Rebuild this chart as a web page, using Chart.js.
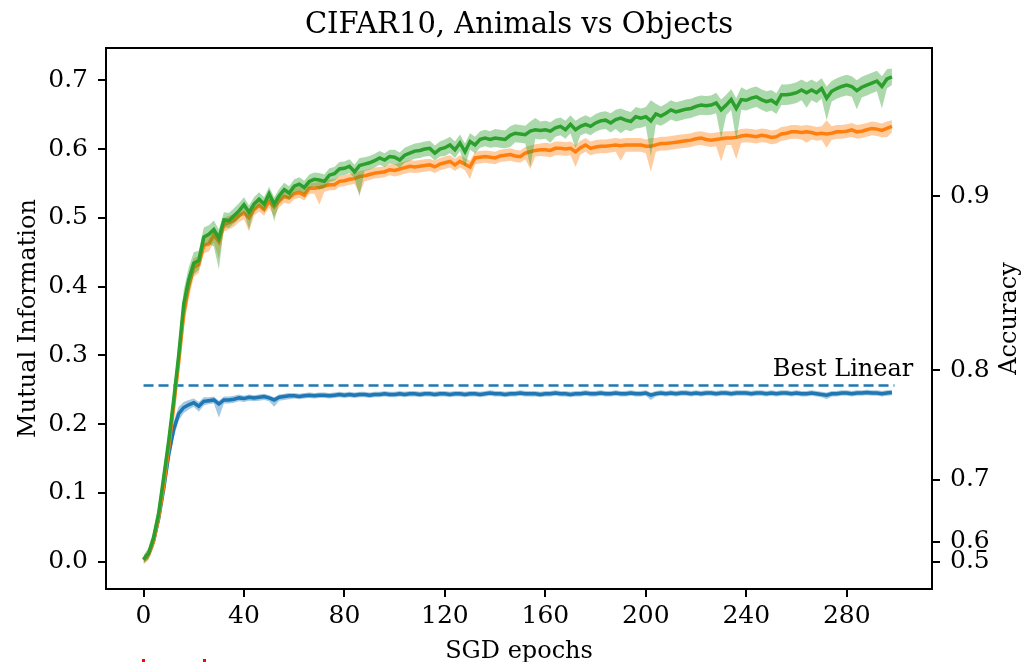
<!DOCTYPE html>
<html>
<head>
<meta charset="utf-8">
<script src="https://cdn.jsdelivr.net/npm/chart.js@4.4.1/dist/chart.umd.min.js"></script>
<style>
  html, body { margin: 0; padding: 0; background: #fff; }
  canvas { display: block; }
</style>
</head>
<body>
<canvas id="miChart" width="1025" height="662"></canvas>
<script>
// ---- data (every 2nd epoch) ----
const epochs = Array.from({ length: 150 }, (_, i) => i * 2);

const xTicks = [0, 40, 80, 120, 160, 200, 240, 280];
const yTicks = [0, 0.1, 0.2, 0.3, 0.4, 0.5, 0.6, 0.7];
const accTicks = [0.5, 0.6, 0.7, 0.8, 0.9];
const bestLinear = 0.256;

const greenMean = [
  0.003, 0.012, 0.035, 0.070, 0.122, 0.175, 0.235, 0.300, 0.375, 0.410, 0.434,
  0.438, 0.472, 0.476, 0.483, 0.470, 0.497, 0.496, 0.503, 0.510, 0.519, 0.508, 0.520, 0.527, 0.520, 0.535, 0.520, 0.532, 0.541, 0.536,
  0.546, 0.549, 0.544, 0.553, 0.556, 0.555, 0.553, 0.562, 0.564, 0.571, 0.572, 0.575, 0.567, 0.576, 0.578, 0.580, 0.583, 0.587, 0.584, 0.589, 0.588, 0.584, 0.591, 0.594, 0.597, 0.598, 0.600, 0.601, 0.594, 0.600,
  0.602, 0.606, 0.599, 0.609, 0.596, 0.611, 0.606, 0.614, 0.616, 0.614, 0.616, 0.615, 0.614, 0.620, 0.623, 0.622, 0.621, 0.626, 0.628, 0.627, 0.628, 0.626, 0.631, 0.633, 0.628, 0.636, 0.628, 0.633, 0.636, 0.633,
  0.638, 0.641, 0.642, 0.638, 0.643, 0.645, 0.642, 0.640, 0.647, 0.645, 0.647, 0.641, 0.651, 0.648, 0.652, 0.657, 0.654, 0.656, 0.658, 0.659, 0.662, 0.664, 0.663, 0.664, 0.667, 0.657, 0.664, 0.672, 0.659, 0.672,
  0.671, 0.674, 0.676, 0.672, 0.669, 0.671, 0.666, 0.679, 0.679, 0.680, 0.682, 0.686, 0.682, 0.686, 0.682, 0.688, 0.674, 0.684, 0.688, 0.691, 0.693, 0.691, 0.685, 0.690, 0.693, 0.696, 0.699, 0.691, 0.702, 0.705
];
const orangeMean = [
  0.002, 0.010, 0.030, 0.064, 0.110, 0.165, 0.225, 0.290, 0.360, 0.400, 0.428,
  0.432, 0.460, 0.462, 0.475, 0.465, 0.490, 0.493, 0.496, 0.503, 0.507, 0.500, 0.512, 0.518, 0.512, 0.524, 0.516, 0.524, 0.531, 0.529,
  0.535, 0.537, 0.533, 0.543, 0.543, 0.544, 0.546, 0.548, 0.548, 0.553, 0.554, 0.556, 0.557, 0.560, 0.561, 0.563, 0.565, 0.566, 0.567, 0.570, 0.569, 0.571, 0.573, 0.575, 0.574, 0.575, 0.576, 0.577, 0.574, 0.578,
  0.580, 0.582, 0.577, 0.582, 0.578, 0.574, 0.587, 0.588, 0.589, 0.588, 0.587, 0.590, 0.591, 0.592, 0.590, 0.589, 0.594, 0.596, 0.598, 0.599, 0.599, 0.598, 0.601, 0.601, 0.600, 0.601, 0.596, 0.602, 0.606, 0.601,
  0.603, 0.604, 0.604, 0.605, 0.606, 0.605, 0.606, 0.606, 0.606, 0.606, 0.604, 0.604, 0.606, 0.608, 0.608, 0.609, 0.610, 0.611, 0.612, 0.613, 0.615, 0.616, 0.614, 0.613, 0.614, 0.615, 0.616, 0.616, 0.617, 0.619,
  0.620, 0.619, 0.618, 0.620, 0.619, 0.617, 0.618, 0.622, 0.623, 0.625, 0.625, 0.624, 0.625, 0.624, 0.622, 0.623, 0.622, 0.623, 0.625, 0.625, 0.626, 0.628, 0.625, 0.626, 0.628, 0.630, 0.629, 0.627, 0.630, 0.633
];
const blueMean = [
  0.003, 0.010, 0.030, 0.062, 0.105, 0.155, 0.192, 0.215, 0.224, 0.228, 0.231,
  0.226, 0.233, 0.234, 0.235, 0.229, 0.235, 0.235, 0.236, 0.238, 0.237, 0.239, 0.238, 0.239, 0.240, 0.238, 0.235, 0.239, 0.240, 0.241,
  0.241, 0.240, 0.241, 0.242, 0.241, 0.242, 0.242, 0.241, 0.242, 0.243, 0.242, 0.243, 0.242, 0.243, 0.243, 0.242, 0.243, 0.243, 0.244, 0.243, 0.243, 0.244, 0.243, 0.244, 0.244, 0.243, 0.244, 0.244, 0.243, 0.244,
  0.244, 0.243, 0.244, 0.244, 0.243, 0.244, 0.244, 0.243, 0.244, 0.245, 0.244, 0.244, 0.243, 0.244, 0.244, 0.245, 0.244, 0.244, 0.244, 0.243, 0.244, 0.244, 0.245, 0.244, 0.244, 0.243, 0.244, 0.244, 0.245, 0.244,
  0.244, 0.245, 0.244, 0.244, 0.245, 0.244, 0.244, 0.245, 0.244, 0.244, 0.245, 0.242, 0.244, 0.245, 0.244, 0.245, 0.244, 0.245, 0.245, 0.244, 0.245, 0.244, 0.245, 0.245, 0.244, 0.245, 0.245, 0.244, 0.245, 0.245,
  0.245, 0.244, 0.245, 0.245, 0.244, 0.245, 0.244, 0.245, 0.245, 0.244, 0.245, 0.244, 0.244, 0.245, 0.244, 0.243, 0.242, 0.244, 0.244, 0.245, 0.245, 0.244, 0.245, 0.245, 0.246, 0.245, 0.245, 0.244, 0.245, 0.246
];

// band extents above / below the mean, in thousandths
const greenUp = [
  6, 8, 10, 12, 14, 15, 16, 18, 20, 18,
  16, 14, 14, 13, 13, 13, 11, 11, 11, 11,
  11, 10, 10, 10, 10, 10, 10, 10, 10, 10,
  10, 10, 10, 10, 10, 10, 10, 10, 10, 10,
  10, 10, 10, 11, 10, 10, 10, 10, 10, 10,
  11, 11, 11, 11, 11, 11, 11, 11, 11, 11,
  12, 12, 12, 12, 12, 12, 12, 12, 12, 12,
  13, 13, 13, 13, 13, 13, 13, 14, 17, 13,
  13, 13, 13, 13, 13, 13, 13, 13, 13, 13,
  13, 13, 13, 14, 14, 14, 14, 14, 14, 14,
  14, 30, 15, 14, 14, 14, 14, 14, 14, 14,
  14, 14, 14, 14, 15, 15, 15, 15, 15, 18,
  15, 15, 15, 15, 15, 15, 15, 15, 15, 15,
  15, 15, 15, 15, 15, 15, 17, 15, 15, 15,
  15, 15, 15, 15, 15, 15, 15, 15, 14, 12
];
const greenDown = [
  6, 8, 10, 12, 14, 15, 16, 18, 20, 18,
  16, 14, 14, 13, 25, 45, 11, 11, 11, 11,
  11, 25, 10, 10, 10, 10, 25, 10, 10, 10,
  10, 10, 10, 10, 10, 14, 10, 10, 10, 10,
  10, 10, 10, 45, 10, 10, 10, 10, 10, 10,
  11, 11, 11, 11, 11, 11, 11, 11, 11, 11,
  12, 12, 12, 12, 22, 12, 12, 12, 12, 12,
  13, 13, 13, 17, 13, 13, 13, 52, 13, 13,
  13, 17, 13, 13, 13, 13, 27, 13, 13, 13,
  13, 13, 13, 14, 14, 22, 14, 14, 17, 14,
  14, 52, 15, 14, 14, 14, 14, 14, 14, 14,
  14, 14, 14, 14, 15, 42, 15, 15, 46, 15,
  15, 15, 15, 15, 15, 15, 15, 15, 15, 15,
  15, 15, 22, 15, 15, 15, 32, 15, 15, 15,
  15, 15, 27, 15, 15, 15, 15, 32, 14, 12
];
const orangeUp = [
  6, 8, 10, 12, 14, 15, 16, 18, 20, 18,
  14, 12, 12, 11, 11, 11, 10, 10, 9, 9,
  9, 9, 9, 9, 9, 9, 9, 9, 9, 9,
  8, 8, 8, 8, 8, 8, 8, 8, 8, 8,
  8, 8, 8, 8, 8, 8, 8, 8, 8, 8,
  9, 9, 9, 9, 9, 9, 9, 9, 9, 9,
  9, 9, 9, 9, 9, 9, 9, 9, 9, 9,
  9, 9, 9, 9, 9, 9, 9, 9, 9, 9,
  10, 10, 10, 10, 10, 10, 10, 10, 10, 10,
  10, 10, 10, 10, 10, 10, 10, 10, 10, 10,
  10, 12, 10, 10, 10, 10, 10, 10, 10, 10,
  10, 10, 10, 10, 10, 10, 10, 10, 10, 10,
  10, 10, 10, 10, 10, 10, 10, 10, 10, 10,
  10, 10, 10, 10, 10, 10, 20, 10, 10, 10,
  10, 10, 10, 10, 10, 10, 10, 10, 10, 9
];
const orangeDown = [
  6, 8, 10, 12, 14, 15, 16, 18, 20, 18,
  14, 12, 12, 11, 11, 25, 10, 10, 9, 9,
  9, 20, 9, 9, 9, 9, 15, 9, 9, 9,
  8, 8, 8, 8, 8, 25, 8, 8, 8, 8,
  8, 8, 8, 25, 8, 8, 8, 8, 8, 8,
  9, 9, 9, 9, 9, 9, 9, 9, 9, 9,
  9, 9, 9, 9, 9, 18, 9, 9, 9, 9,
  9, 9, 9, 9, 9, 9, 9, 25, 9, 9,
  10, 10, 10, 10, 10, 10, 22, 10, 10, 10,
  10, 10, 10, 10, 10, 22, 10, 10, 10, 10,
  10, 37, 10, 10, 10, 10, 10, 10, 10, 10,
  10, 10, 10, 10, 10, 33, 10, 10, 32, 10,
  10, 10, 10, 10, 10, 10, 10, 10, 10, 10,
  10, 10, 16, 10, 10, 10, 20, 10, 10, 10,
  10, 10, 10, 10, 10, 10, 10, 10, 13, 9
];
const blueUp = [
  5, 6, 8, 10, 12, 14, 12, 10, 8, 7,
  6, 6, 6, 5, 5, 5, 5, 5, 5, 5,
  4, 4, 4, 4, 4, 4, 4, 4, 4, 4,
  4, 4, 4, 4, 4, 4, 4, 4, 4, 4,
  4, 4, 4, 4, 4, 4, 4, 4, 4, 4,
  4, 4, 4, 4, 4, 4, 4, 4, 4, 4,
  4, 4, 4, 4, 4, 4, 4, 4, 4, 4,
  4, 4, 4, 4, 4, 4, 4, 4, 4, 4,
  4, 4, 4, 4, 4, 4, 4, 4, 4, 4,
  4, 4, 4, 4, 4, 4, 4, 4, 4, 4,
  4, 4, 4, 4, 4, 4, 4, 4, 4, 4,
  4, 4, 4, 4, 4, 4, 4, 4, 4, 4,
  4, 4, 4, 4, 4, 4, 4, 4, 4, 4,
  4, 4, 4, 4, 4, 4, 4, 4, 4, 4,
  4, 4, 4, 4, 4, 4, 4, 4, 4, 4
];
const blueDown = [
  5, 6, 8, 10, 12, 14, 12, 10, 8, 7,
  6, 8, 6, 5, 5, 20, 5, 5, 5, 5,
  5, 5, 5, 5, 5, 5, 10, 5, 5, 5,
  4, 4, 4, 4, 4, 4, 4, 4, 4, 4,
  4, 4, 4, 4, 4, 4, 4, 4, 4, 4,
  4, 4, 4, 4, 4, 4, 4, 4, 4, 4,
  4, 4, 4, 4, 4, 4, 4, 4, 4, 4,
  4, 4, 4, 4, 4, 4, 4, 4, 4, 4,
  4, 4, 4, 4, 4, 4, 4, 4, 4, 4,
  4, 4, 4, 4, 4, 4, 4, 4, 4, 4,
  4, 7, 4, 4, 4, 4, 4, 4, 4, 4,
  4, 4, 4, 4, 4, 4, 4, 4, 4, 4,
  4, 4, 4, 4, 4, 4, 4, 4, 4, 4,
  4, 4, 4, 4, 4, 4, 6, 4, 4, 4,
  4, 4, 4, 4, 4, 4, 4, 4, 4, 4
];

const FONT = '"DejaVu Serif", serif';

// accuracy axis sits at 1 - H(acc) (bits) on the MI scale
function miFromAcc(a) {
    if (a <= 0.5) return 0;
    const b = 1 - a;
    return 1 + a * Math.log2(a) + b * Math.log2(b);
}

function pts(values, offs, sign) {
    return epochs.map((e, i) => ({ x: e, y: values[i] + sign * (offs ? offs[i] / 1000 : 0) }));
}

function series(mean, up, down, color, fillColor, order) {
    return [
        { data: pts(mean, down, -1), borderWidth: 0, pointRadius: 0, fill: false, order: order + 1 },
        { data: pts(mean, up, 1), borderWidth: 0, pointRadius: 0, fill: '-1', backgroundColor: fillColor, order: order + 1 },
        { data: pts(mean, null, 0), borderColor: color, borderWidth: 3.5, pointRadius: 0, fill: false, order: order }
    ];
}

const datasets = [
    { data: [{ x: 0, y: bestLinear }, { x: 299, y: bestLinear }], borderColor: '#1f77b4', borderWidth: 2.5,
      borderDash: [10, 5], pointRadius: 0, fill: false, order: 20 },
    ...series(blueMean, blueUp, blueDown, '#1f77b4', 'rgba(31,119,180,0.4)', 14),
    ...series(orangeMean, orangeUp, orangeDown, '#ff7f0e', 'rgba(255,127,14,0.4)', 10),
    ...series(greenMean, greenUp, greenDown, '#2ca02c', 'rgba(44,160,44,0.4)', 6)
];

// title, axis labels, frame
const decorations = {
    id: 'decorations',
    afterDraw(chart) {
        const { ctx, chartArea: a, scales } = chart;
        ctx.save();
        ctx.strokeStyle = '#000';
        ctx.lineWidth = 2;
        ctx.strokeRect(a.left, a.top, a.right - a.left, a.bottom - a.top);

        ctx.fillStyle = '#000';
        ctx.textBaseline = 'alphabetic';
        ctx.textAlign = 'center';
        ctx.font = '29px ' + FONT;
        ctx.fillText('CIFAR10, Animals vs Objects', (a.left + a.right) / 2, 33);

        ctx.font = '24px ' + FONT;
        ctx.fillText('SGD epochs', (a.left + a.right) / 2, 658);

        const midY = (a.top + a.bottom) / 2;
        ctx.save();
        ctx.translate(35, midY);
        ctx.rotate(-Math.PI / 2);
        ctx.fillText('Mutual Information', 0, 0);
        ctx.restore();

        ctx.save();
        ctx.translate(1016, midY);
        ctx.rotate(-Math.PI / 2);
        ctx.fillText('Accuracy', 0, 0);
        ctx.restore();

        ctx.textAlign = 'right';
        ctx.font = '24px ' + FONT;
        ctx.fillText('Best Linear', scales.x.getPixelForValue(306.5), scales.y.getPixelForValue(0.2705));

        // clipped red marks at the very bottom of the figure
        ctx.fillStyle = '#ff0000';
        ctx.fillRect(142, 659, 3, 3);
        ctx.fillRect(203, 659, 3, 3);
        ctx.restore();
    }
};

const tickFont = { family: FONT, size: 25 };

const ctx = document.getElementById('miChart').getContext('2d');
const miChart = new Chart(ctx, {
    type: 'line',
    data: { datasets: datasets },
    options: {
        responsive: false,
        animation: false,
        devicePixelRatio: 1,
        layout: { padding: { top: 48, left: 0, right: 0, bottom: 0 } },
        plugins: {
            legend: { display: false },
            tooltip: { enabled: false },
            title: { display: false }
        },
        scales: {
            x: {
                type: 'linear',
                min: -14.95,
                max: 313.95,
                afterBuildTicks: scale => { scale.ticks = xTicks.map(v => ({ value: v })); },
                afterFit: scale => { scale.height = 73; },
                grid: { drawOnChartArea: false, drawTicks: true, tickLength: 8, color: '#000', lineWidth: 2 },
                border: { display: true, color: '#000', width: 2 },
                ticks: { font: tickFont, color: '#000', padding: 4, maxRotation: 0, autoSkip: false,
                         callback: v => String(v) }
            },
            y: {
                position: 'left',
                min: -0.040,
                max: 0.747,
                afterBuildTicks: scale => { scale.ticks = yTicks.map(v => ({ value: v })); },
                afterFit: scale => { scale.width = 106; },
                grid: { drawOnChartArea: false, drawTicks: true, tickLength: 8, color: '#000', lineWidth: 2 },
                border: { display: true, color: '#000', width: 2 },
                ticks: { font: tickFont, color: '#000', padding: 10, autoSkip: false,
                         callback: v => v.toFixed(1) }
            },
            y2: {
                position: 'right',
                min: -0.040,
                max: 0.747,
                afterBuildTicks: scale => { scale.ticks = accTicks.map(a => ({ value: miFromAcc(a) })); },
                afterFit: scale => { scale.width = 93; },
                grid: { drawOnChartArea: false, drawTicks: true, tickLength: 8, color: '#000', lineWidth: 2 },
                border: { display: true, color: '#000', width: 2 },
                ticks: { font: tickFont, color: '#000', padding: 10, autoSkip: false,
                         callback: (v, i) => accTicks[i].toFixed(1) }
            }
        }
    },
    plugins: [decorations]
});
</script>
</body>
</html>
